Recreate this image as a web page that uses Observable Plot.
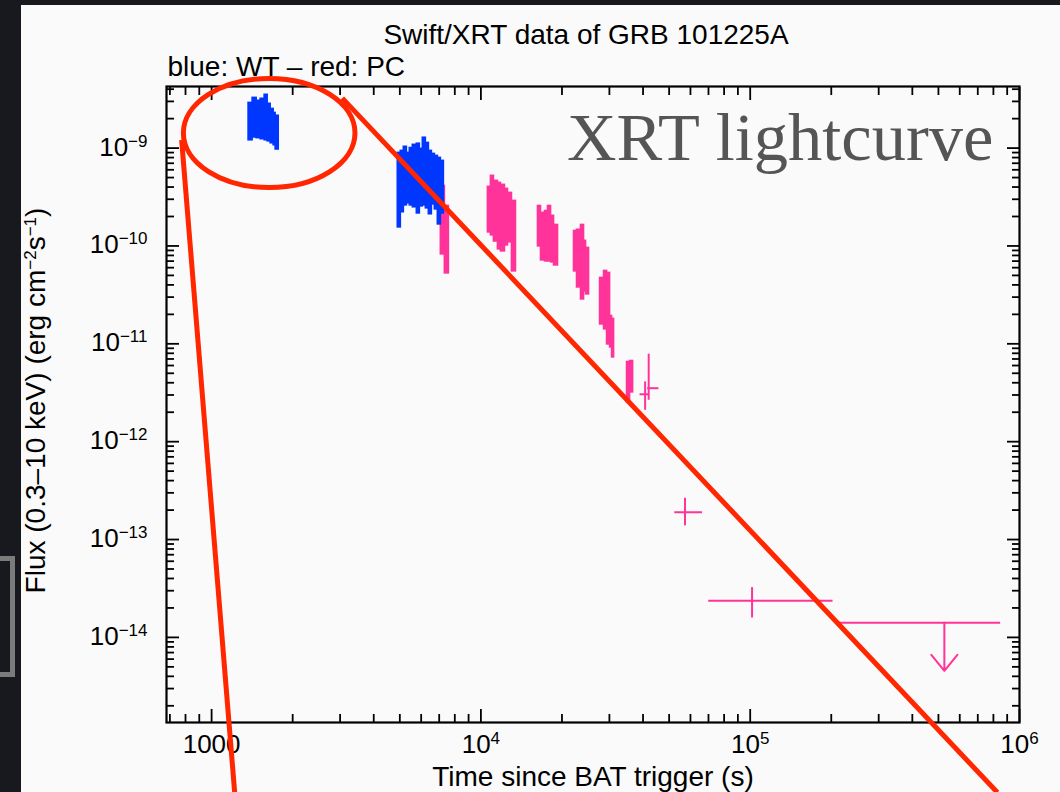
<!DOCTYPE html>
<html>
<head>
<meta charset="utf-8">
<script src="https://cdn.jsdelivr.net/npm/d3@7"></script>
<script src="https://cdn.jsdelivr.net/npm/@observablehq/plot@0.6"></script>
<style>
  html, body { margin: 0; padding: 0; }
  body {
    width: 1060px; height: 792px; overflow: hidden; position: relative;
    background: #17191f;
    font-family: "Liberation Sans", Arial, Helvetica, sans-serif;
  }
  #panel { position: absolute; left: 21px; top: 5px; right: 0; bottom: 0; background: #fafafa; }
  #tab { position: absolute; left: -25px; top: 556px; width: 30px; height: 111px; border: 5px solid #7b7b7b; }
  #chart { position: absolute; left: 0; top: 0; }
</style>
</head>
<body>
<div id="tab"></div>
<div id="panel"></div>
<div id="chart"></div>
<script>
// Swift/XRT light curve of GRB 101225A (0.3–10 keV flux vs time since BAT trigger)

// Windowed Timing mode bins: [t start (s), t stop (s), flux low, flux high]
const wtBins = [
  [1372, 1420, 1.18e-9, 2.95e-9],
  [1420, 1470, 1.26e-9, 3.32e-9],
  [1470, 1521, 1.24e-9, 3.10e-9],
  [1521, 1574, 1.21e-9, 3.25e-9],
  [1574, 1615, 1.18e-9, 3.57e-9],
  [1615, 1657, 1.15e-9, 2.89e-9],
  [1657, 1700, 1.10e-9, 2.56e-9],
  [1700, 1729, 1.05e-9, 2.33e-9],
  [1729, 1775, 0.95e-9, 2.18e-9],
  [4913, 5042, 1.52e-10, 9.10e-10],
  [5042, 5174, 2.17e-10, 9.54e-10],
  [5174, 5309, 2.55e-10, 1.05e-9],
  [5309, 5444, 2.68e-10, 9.10e-10],
  [5444, 5587, 2.55e-10, 1.02e-9],
  [5587, 5782, 2.44e-10, 1.10e-9],
  [5782, 5932, 2.11e-10, 1.13e-9],
  [5932, 6086, 2.49e-10, 1.00e-9],
  [6086, 6245, 2.55e-10, 1.30e-9],
  [6245, 6408, 2.38e-10, 1.15e-9],
  [6408, 6574, 2.07e-10, 9.54e-10],
  [6574, 6745, 2.61e-10, 8.89e-10],
  [6745, 6920, 2.32e-10, 8.48e-10],
  [6920, 7100, 1.63e-10, 8.09e-10],
  [7100, 7285, 2.11e-10, 7.54e-10]
];

// Photon Counting mode bins: [t start (s), t stop (s), flux low, flux high]
const pcBins = [
  [7100, 7348, 8.05e-11, 4.18e-10],
  [7348, 7603, 5.15e-11, 2.61e-10],
  [10617, 10894, 1.35e-10, 4.09e-10],
  [10894, 11177, 1.26e-10, 5.30e-10],
  [11177, 11567, 1.09e-10, 4.71e-10],
  [11567, 11868, 9.06e-11, 4.49e-10],
  [11868, 12282, 8.64e-11, 4.29e-10],
  [12282, 12602, 9.95e-11, 3.90e-10],
  [12602, 13040, 1.07e-10, 3.55e-10],
  [13040, 13496, 5.40e-11, 2.94e-10],
  [16292, 16715, 9.72e-11, 2.61e-10],
  [16715, 17298, 6.99e-11, 2.22e-10],
  [17298, 17749, 6.83e-11, 2.32e-10],
  [17749, 18210, 6.83e-11, 2.61e-10],
  [18210, 18685, 6.67e-11, 2.07e-10],
  [18685, 19333, 6.21e-11, 1.67e-10],
  [22171, 22749, 5.40e-11, 1.45e-10],
  [22749, 23534, 3.70e-11, 1.49e-10],
  [23534, 24149, 2.79e-11, 1.67e-10],
  [24149, 24565, 3.37e-11, 1.15e-10],
  [24565, 25205, 3.14e-11, 9.72e-11],
  [27700, 28662, 1.55e-11, 4.80e-11],
  [28662, 29410, 1.38e-11, 5.66e-11],
  [29410, 30177, 9.68e-12, 5.40e-11],
  [30177, 30695, 9.02e-12, 1.96e-11],
  [30695, 31225, 7.13e-12, 1.83e-11],
  [34889, 35794, 2.47e-12, 6.64e-12],
  [35794, 36738, 3.13e-12, 6.80e-12]
];

// Isolated PC points: [t, t low, t high, flux, flux low, flux high]
const pcPoints = [
  [40719, 38999, 42246, 3.05e-12, 2.09e-12, 4.08e-12],
  [41984, 41627, 45814, 3.52e-12, 2.65e-12, 7.83e-12],
  [57270, 52480, 66500, 1.90e-13, 1.38e-13, 2.64e-13],
  [101600, 70150, 203000, 2.37e-14, 1.58e-14, 3.23e-14]
];

// PC upper limit: [t low, t high, t, flux limit]
const pcUpperLimits = [
  [210500, 851000, 526000, 1.41e-14]
];

// Axis ticks
const xMajor = [1e3, 1e4, 1e5, 1e6];
const xTickText = ["1000", "10^{4}", "10^{5}", "10^{6}"];
const xMinor = [700, 800, 900,
  2e3, 3e3, 4e3, 5e3, 6e3, 7e3, 8e3, 9e3,
  2e4, 3e4, 4e4, 5e4, 6e4, 7e4, 8e4, 9e4,
  2e5, 3e5, 4e5, 5e5, 6e5, 7e5, 8e5, 9e5];
const yMajor = [1e-9, 1e-10, 1e-11, 1e-12, 1e-13, 1e-14];
const yTickText = ["10^{−9}", "10^{−10}", "10^{−11}", "10^{−12}", "10^{−13}", "10^{−14}"];
const yMinor = [2e-15, 3e-15, 4e-15, 5e-15, 6e-15, 7e-15, 8e-15, 9e-15,
  2e-14, 3e-14, 4e-14, 5e-14, 6e-14, 7e-14, 8e-14, 9e-14,
  2e-13, 3e-13, 4e-13, 5e-13, 6e-13, 7e-13, 8e-13, 9e-13,
  2e-12, 3e-12, 4e-12, 5e-12, 6e-12, 7e-12, 8e-12, 9e-12,
  2e-11, 3e-11, 4e-11, 5e-11, 6e-11, 7e-11, 8e-11, 9e-11,
  2e-10, 3e-10, 4e-10, 5e-10, 6e-10, 7e-10, 8e-10, 9e-10,
  2e-9, 3e-9, 4e-9];

// Callout: ring around the first WT orbit and two leader lines
const calloutRing = {t: 1643, f: 1.41e-9, halfDecadesX: 0.3186, halfDecadesY: 0.5573};
const calloutLines = [
  [774, 1.21e-9, 1218, 2.6e-16],
  [3056, 3.24e-9, 828000, 2.6e-16]
];

const WT = "#0037ff";
const PC = "#ff3399";
const RED = "#ff2600";
const SANS = "'Liberation Sans', Arial, Helvetica, sans-serif";

// Downward arrow for upper limits (length in px)
const limitArrow = {
  draw(context, l) {
    context.moveTo(0, 0);
    context.lineTo(0, -l);
    context.moveTo(-13, -l + 16);
    context.lineTo(0, -l);
    context.lineTo(13, -l + 16);
  }
};

const tickOpts = {fill: "none", label: null, strokeWidth: 1.8};
// adjacent bins overlap slightly so the light curve reads as a solid band
const binOpts = color => ({x1: d => d[0], x2: d => d[1], y1: d => d[2], y2: d => d[3],
  insetLeft: -0.8, insetRight: -0.8, fill: color});

const plot = Plot.plot({
  width: 1060,
  height: 792,
  marginLeft: 166,
  marginRight: 41,
  marginTop: 86,
  marginBottom: 70,
  style: {background: "none", fontFamily: SANS, color: "black", overflow: "visible"},
  x: {type: "log", domain: [680, 1e6]},
  y: {type: "log", domain: [1.35e-15, 4.26e-9]},
  marks: [
    // PC data
    Plot.rect(pcBins, binOpts(PC)),
    Plot.ruleY(pcPoints, {y: d => d[3], x1: d => d[1], x2: d => d[2], stroke: PC, strokeWidth: 2}),
    Plot.ruleX(pcPoints, {x: d => d[0], y1: d => d[4], y2: d => d[5], stroke: PC, strokeWidth: 2}),
    Plot.ruleY(pcUpperLimits, {y: d => d[3], x1: d => d[0], x2: d => d[1], stroke: PC, strokeWidth: 2}),
    Plot.vector(pcUpperLimits, {x: d => d[2], y: d => d[3], length: 48, rotate: 180, anchor: "start",
      shape: limitArrow, stroke: PC, strokeWidth: 2}),
    // WT data
    Plot.rect(wtBins, binOpts(WT)),
    // frame and inward ticks on all four sides
    Plot.frame({stroke: "black", strokeWidth: 2.2}),
    Plot.axisX(xMajor, {anchor: "bottom", tickSize: -13, ...tickOpts}),
    Plot.axisX(xMinor, {anchor: "bottom", tickSize: -8, ...tickOpts}),
    Plot.axisX(xMajor, {anchor: "top", tickSize: -13, ...tickOpts}),
    Plot.axisX(xMinor, {anchor: "top", tickSize: -8, ...tickOpts}),
    Plot.axisY(yMajor, {anchor: "left", tickSize: -13, ...tickOpts}),
    Plot.axisY(yMinor, {anchor: "left", tickSize: -8, ...tickOpts}),
    Plot.axisY(yMajor, {anchor: "right", tickSize: -13, ...tickOpts}),
    Plot.axisY(yMinor, {anchor: "right", tickSize: -8, ...tickOpts}),
    // tick labels
    Plot.text(xMajor, {x: d => d, text: (d, i) => xTickText[i], frameAnchor: "bottom",
      dy: 30, lineAnchor: "bottom", fontSize: 26}),
    Plot.text(yMajor, {y: d => d, text: (d, i) => yTickText[i], frameAnchor: "left",
      dx: -19, dy: 7.5, textAnchor: "end", lineAnchor: "bottom", fontSize: 26}),
    // axis labels and titles
    Plot.text(["Time since BAT trigger (s)"], {frameAnchor: "bottom", dy: 63, lineAnchor: "bottom", fontSize: 28}),
    Plot.text(["Flux (0.3–10 keV) (erg cm^{−2}s^{−1})"], {frameAnchor: "left", rotate: -90,
      dx: -122, dy: -4, textAnchor: "middle", lineAnchor: "bottom", fontSize: 28}),
    Plot.text(["Swift/XRT data of GRB 101225A"], {frameAnchor: "top", dx: -7, dy: -43,
      lineAnchor: "bottom", fontSize: 28}),
    Plot.text(["blue: WT – red: PC"], {frameAnchor: "top-left", textAnchor: "start", dx: 1, dy: -11,
      lineAnchor: "bottom", fontSize: 28}),
    Plot.text(["XRT lightcurve"], {frameAnchor: "top-right", textAnchor: "end", dx: -26, dy: 73,
      lineAnchor: "bottom", fontSize: 68.5, fontFamily: "'Liberation Serif', 'DejaVu Serif', serif", fill: "#555"}),
    // callout leader lines
    Plot.link(calloutLines, {x1: d => d[0], y1: d => d[1], x2: d => d[2], y2: d => d[3],
      stroke: RED, strokeWidth: 5})
  ]
});

// Superscripts: "^{...}" becomes a raised, smaller tspan
d3.select(plot).selectAll("text").each(function () {
  const s = this.textContent;
  if (!s.includes("^{")) return;
  const size = parseFloat(getComputedStyle(this).fontSize) || 26;
  const supSize = Math.round(size * 0.65);
  const raise = Math.round(size * 0.36);
  const parts = s.split(/\^\{([^}]*)\}/);
  this.textContent = "";
  let raised = false;
  parts.forEach((p, i) => {
    if (!p) return;
    const sup = i % 2 === 1;
    const ts = d3.select(this).append("tspan").text(p);
    if (sup) {
      ts.attr("font-size", supSize);
      if (!raised) ts.attr("dy", -raise);
      raised = true;
    } else if (raised) {
      ts.attr("dy", raise);
      raised = false;
    }
  });
});

// Callout ring drawn through the plot's own scales
const sx = plot.scale("x"), sy = plot.scale("y");
const cx = sx.apply(calloutRing.t), cy = sy.apply(calloutRing.f);
d3.select(plot).append("ellipse")
  .attr("cx", cx).attr("cy", cy)
  .attr("rx", sx.apply(calloutRing.t * 10 ** calloutRing.halfDecadesX) - cx)
  .attr("ry", cy - sy.apply(calloutRing.f * 10 ** calloutRing.halfDecadesY))
  .attr("fill", "none").attr("stroke", RED).attr("stroke-width", 5);

document.getElementById("chart").appendChild(plot);
</script>
</body>
</html>
